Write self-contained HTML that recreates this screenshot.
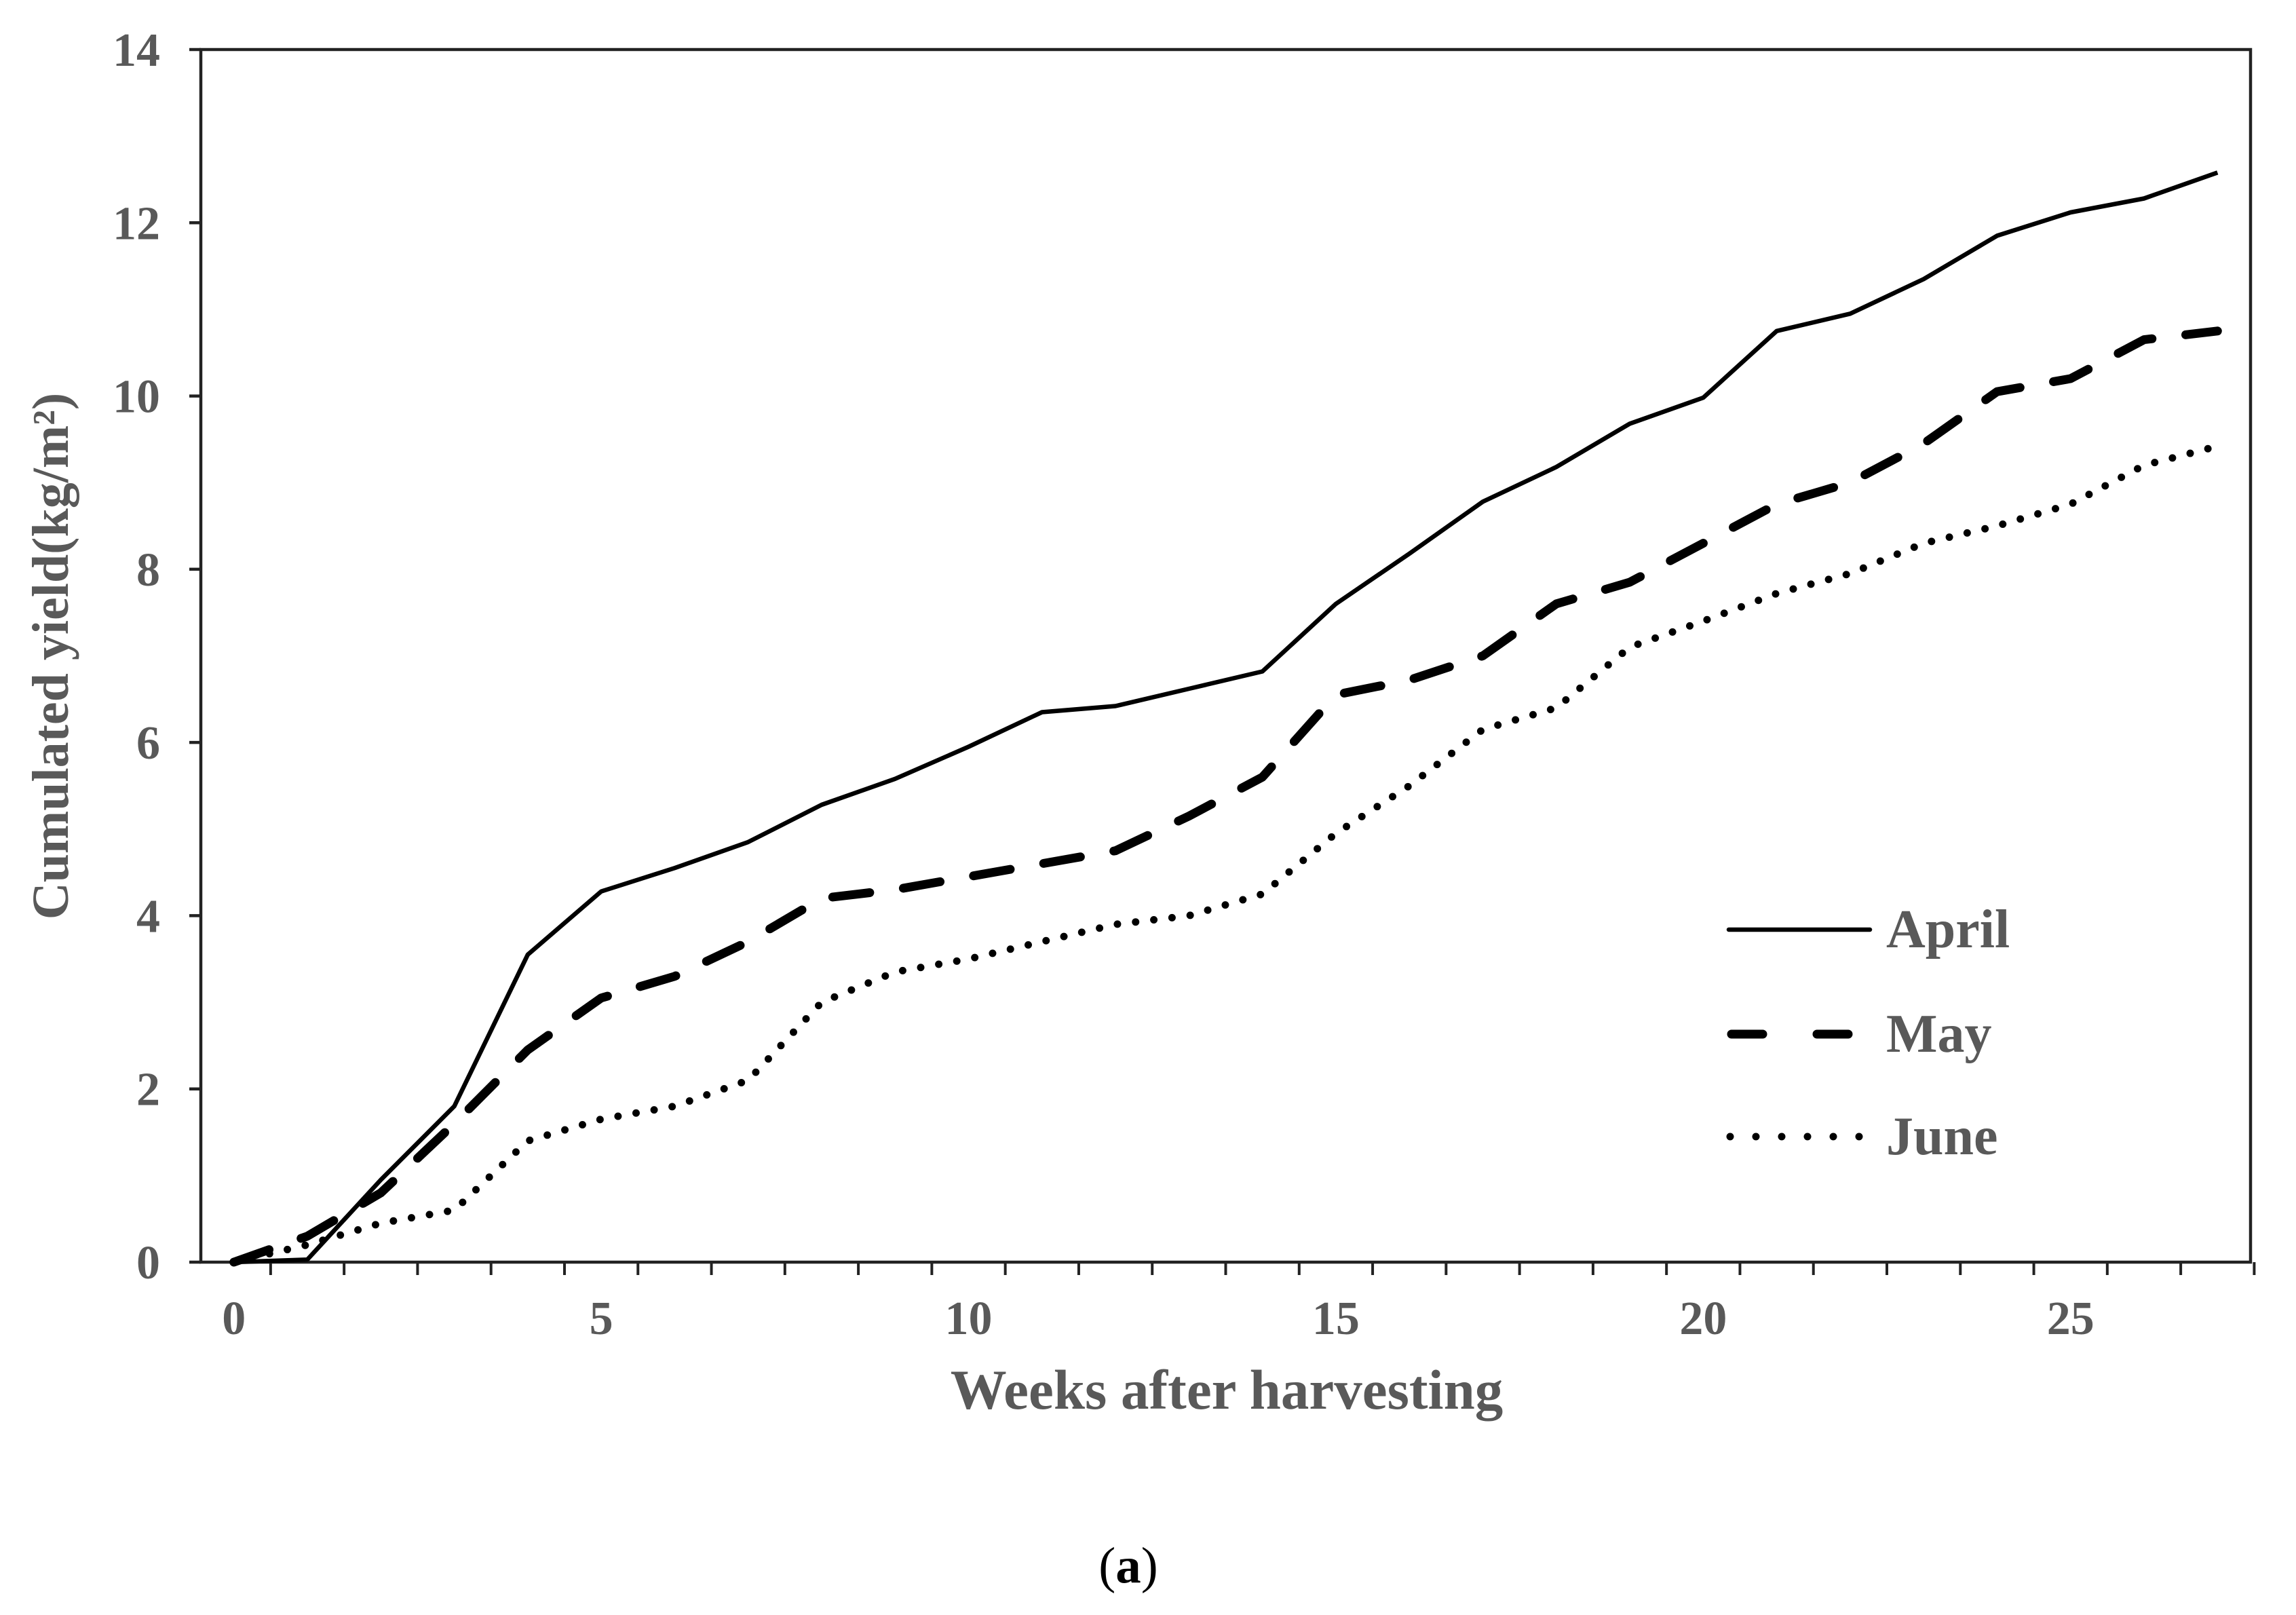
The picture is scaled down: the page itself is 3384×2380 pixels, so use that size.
<!DOCTYPE html>
<html><head><meta charset="utf-8"><style>
html,body{margin:0;padding:0;background:#fff;}
svg{display:block;}
text{font-family:"Liberation Serif",serif;font-weight:bold;}
</style></head><body>
<svg id="chart" width="3384" height="2380" viewBox="0 0 3384 2380" xmlns="http://www.w3.org/2000/svg">
<g id="axes"></g>
<g id="series"></g>
<g id="legend">
  <line x1="2548" y1="1370" x2="2756" y2="1370" stroke="#000" stroke-width="6.5" stroke-linecap="round"/>
  <text x="2780" y="1396" font-size="80" fill="#595959">April</text>
  <line x1="2552" y1="1524" x2="2752" y2="1524" stroke="#000" stroke-width="13" stroke-linecap="round" stroke-dasharray="46 80"/>
  <text x="2780" y="1550" font-size="80" fill="#595959">May</text>
  <line x1="2550" y1="1675" x2="2750" y2="1675" stroke="#000" stroke-width="11" stroke-linecap="round" stroke-dasharray="0 38"/>
  <text x="2780" y="1701" font-size="80" fill="#595959">June</text>
</g>
<text x="1808" y="2076" font-size="83" fill="#595959" text-anchor="middle">Weeks after harvesting</text>
<text transform="translate(100,967) rotate(-90)" font-size="76" fill="#595959" text-anchor="middle">Cumulated yield(kg/m²)</text>
<text x="1663" y="2332" font-size="75" fill="#000" text-anchor="middle" style="font-weight:normal">(<tspan style="font-weight:bold">a</tspan>)</text>
</svg>
<script>
const weeks = [0,1,2,3,4,5,6,7,8,9,10,11,12,13,14,15,16,17,18,19,20,21,22,23,24,25,26,27];
const april = [0,0.03,0.95,1.8,3.55,4.28,4.55,4.85,5.28,5.58,5.95,6.35,6.42,6.62,6.82,7.6,8.18,8.78,9.18,9.68,9.98,10.75,10.95,11.35,11.85,12.12,12.28,12.58];
const may = [0,0.3,0.8,1.6,2.45,3.05,3.3,3.7,4.2,4.3,4.45,4.6,4.75,5.15,5.6,6.55,6.72,7.0,7.6,7.85,8.3,8.75,9.0,9.45,10.05,10.2,10.65,10.75];
const june = [0,0.2,0.45,0.6,1.4,1.65,1.8,2.1,3.0,3.35,3.5,3.7,3.9,4.0,4.25,4.95,5.5,6.15,6.4,7.1,7.4,7.72,7.95,8.3,8.5,8.75,9.2,9.42];
const yTicks = [0,2,4,6,8,10,12,14];
const xTickLabels = [0,5,10,15,20,25];

const NS="http://www.w3.org/2000/svg";
const L=296,R=3317,T=73,B=1860;
const xMin=-0.45,xMax=27.45,yMax=14;
function xs(w){return L+(w-xMin)/(xMax-xMin)*(R-L);}
function ys(v){return B-v/yMax*(B-T);}
function mk(tag,attrs,parent){const e=document.createElementNS(NS,tag);for(const k in attrs)e.setAttribute(k,attrs[k]);parent.appendChild(e);return e;}
const axes=document.getElementById('axes');
let frame=mk('rect',{x:L,y:T,width:R-L,height:B-T,fill:'none',stroke:'#222','stroke-width':4.5},axes);


yTicks.forEach(v=>{
  let t=mk('line',{x1:L-17,x2:L,y1:ys(v),y2:ys(v),stroke:'#222','stroke-width':4.5},axes);
  
  
  let lb=mk('text',{x:L-60,y:ys(v)+24,'font-size':70,fill:'#595959','text-anchor':'end'},axes);
  lb.textContent=v;
  
  
});
for(let k=0;k<=28;k++){
  const xv=-0.5+k;
  if(xv<xMin-0.01||xv>xMax+0.06) continue;
  let t=mk('line',{x1:xs(xv),x2:xs(xv),y1:B,y2:B+19,stroke:'#222','stroke-width':4},axes);
  
  
}
xTickLabels.forEach(w=>{
  let lb=mk('text',{x:xs(w),y:B+106,'font-size':70,fill:'#595959','text-anchor':'middle'},axes);
  lb.textContent=w;
  
  
});
const series=document.getElementById('series');
function draw(vals,name,attrs){
  const d=vals.map((v,i)=>(i?'L':'M')+xs(weeks[i]).toFixed(1)+' '+ys(v).toFixed(1)).join(' ');
  const p=mk('path',Object.assign({d:d,fill:'none',stroke:'#000','stroke-linejoin':'round'},attrs),series);
  
  
}
draw(june,'june-line',{'stroke-width':11,'stroke-linecap':'round','stroke-dasharray':'0 27'});
draw(may,'may-line',{'stroke-width':13,'stroke-linecap':'round','stroke-dasharray':'55 50'});
draw(april,'april-line',{'stroke-width':6.5});
</script>
</body></html>
